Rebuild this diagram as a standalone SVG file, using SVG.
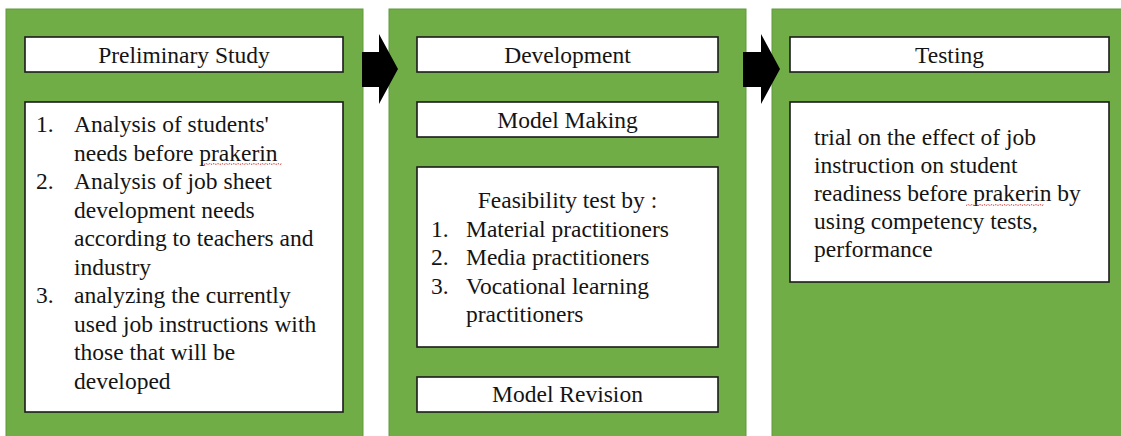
<svg xmlns="http://www.w3.org/2000/svg" width="1121" height="436" viewBox="0 0 1121 436">
  <style>
    .panel { fill: #70AD47; stroke: #5f9a3c; stroke-width: 1; }
    .box { fill: #ffffff; stroke: #1b1b1b; stroke-width: 1.6; }
    .t { font-family: "Liberation Serif", "Times New Roman", serif; font-size: 23.5px; fill: #141414; }
    .c { text-anchor: middle; }
    .arrow { fill: #000000; }
    .squiggle { fill: none; stroke: #d23b3b; stroke-width: 1; stroke-dasharray: 1.5 1; }
  </style>

  <rect width="1121" height="436" fill="#ffffff"/>

  <!-- Stage 1 -->
  <g id="stage-preliminary">
    <rect class="panel" x="6" y="9" width="357" height="440"/>
    <g id="preliminary-title">
      <rect class="box" x="25" y="37" width="318" height="35"/>
      <text class="t c" x="184" y="63">Preliminary Study</text>
    </g>
    <g id="preliminary-steps">
      <rect class="box" x="25" y="102" width="318" height="310"/>
      <text class="t" x="36" y="132">1.</text>
      <text class="t" x="74" y="132">Analysis of students'</text>
      <text class="t" x="74" y="160.5">needs before prakerin</text>
      <path class="squiggle" d="M204 164.5 l2 -1 l2 1 l2 -1 l2 1 l2 -1 l2 1 l2 -1 l2 1 l2 -1 l2 1 l2 -1 l2 1 l2 -1 l2 1 l2 -1 l2 1 l2 -1 l2 1 l2 -1 l2 1 l2 -1 l2 1 l2 -1 l2 1 l2 -1 l2 1 l2 -1 l2 1 l2 -1 l2 1 l2 -1 l2 1 l2 -1 l2 1 l2 -1 l2 1 l2 -1 l2 1 l2 -1"/>
      <text class="t" x="36" y="189">2.</text>
      <text class="t" x="74" y="189">Analysis of job sheet</text>
      <text class="t" x="74" y="217.5">development needs</text>
      <text class="t" x="74" y="246">according to teachers and</text>
      <text class="t" x="74" y="274.5">industry</text>
      <text class="t" x="36" y="303">3.</text>
      <text class="t" x="74" y="303">analyzing the currently</text>
      <text class="t" x="74" y="331.5">used job instructions with</text>
      <text class="t" x="74" y="360">those that will be</text>
      <text class="t" x="74" y="388.5">developed</text>
    </g>
  </g>

  <!-- Stage 2 -->
  <g id="stage-development">
    <rect class="panel" x="389" y="9" width="357" height="440"/>
    <g id="development-title">
      <rect class="box" x="417" y="37" width="301" height="35"/>
      <text class="t c" x="567.5" y="63">Development</text>
    </g>
    <g id="model-making">
      <rect class="box" x="417" y="102" width="301" height="35"/>
      <text class="t c" x="567.5" y="128">Model Making</text>
    </g>
    <g id="feasibility-test">
      <rect class="box" x="417" y="167" width="301" height="180"/>
      <text class="t c" x="567.5" y="208">Feasibility test by :</text>
      <text class="t" x="431" y="236.5">1.</text>
      <text class="t" x="466" y="236.5">Material practitioners</text>
      <text class="t" x="431" y="265">2.</text>
      <text class="t" x="466" y="265">Media practitioners</text>
      <text class="t" x="431" y="293.5">3.</text>
      <text class="t" x="466" y="293.5">Vocational learning</text>
      <text class="t" x="466" y="322">practitioners</text>
    </g>
    <g id="model-revision">
      <rect class="box" x="417" y="377" width="301" height="35"/>
      <text class="t c" x="567.5" y="402">Model Revision</text>
    </g>
  </g>

  <!-- Stage 3 -->
  <g id="stage-testing">
    <rect class="panel" x="772" y="9" width="360" height="440"/>
    <g id="testing-title">
      <rect class="box" x="790" y="37" width="319" height="35"/>
      <text class="t c" x="949.5" y="63">Testing</text>
    </g>
    <g id="testing-detail">
      <rect class="box" x="790" y="102" width="319" height="180"/>
      <text class="t" x="814" y="145">trial on the effect of job</text>
      <text class="t" x="814" y="173">instruction on student</text>
      <text class="t" x="814" y="201">readiness before prakerin by</text>
      <path class="squiggle" d="M966 205.5 l2 -1 l2 1 l2 -1 l2 1 l2 -1 l2 1 l2 -1 l2 1 l2 -1 l2 1 l2 -1 l2 1 l2 -1 l2 1 l2 -1 l2 1 l2 -1 l2 1 l2 -1 l2 1 l2 -1 l2 1 l2 -1 l2 1 l2 -1 l2 1 l2 -1 l2 1 l2 -1 l2 1 l2 -1 l2 1 l2 -1 l2 1 l2 -1 l2 1 l2 -1 l2 1 l2 -1"/>
      <text class="t" x="814" y="229">using competency tests,</text>
      <text class="t" x="814" y="257">performance</text>
    </g>
  </g>

  <!-- Block arrows between stages -->
  <g id="connectors">
    <polygon class="arrow" points="362,52 379,52 379,34 398,69 379,104 379,87 362,87"/>
    <polygon class="arrow" points="743,52 761,52 761,34 780,69 761,104 761,87 743,87"/>
  </g>
</svg>
